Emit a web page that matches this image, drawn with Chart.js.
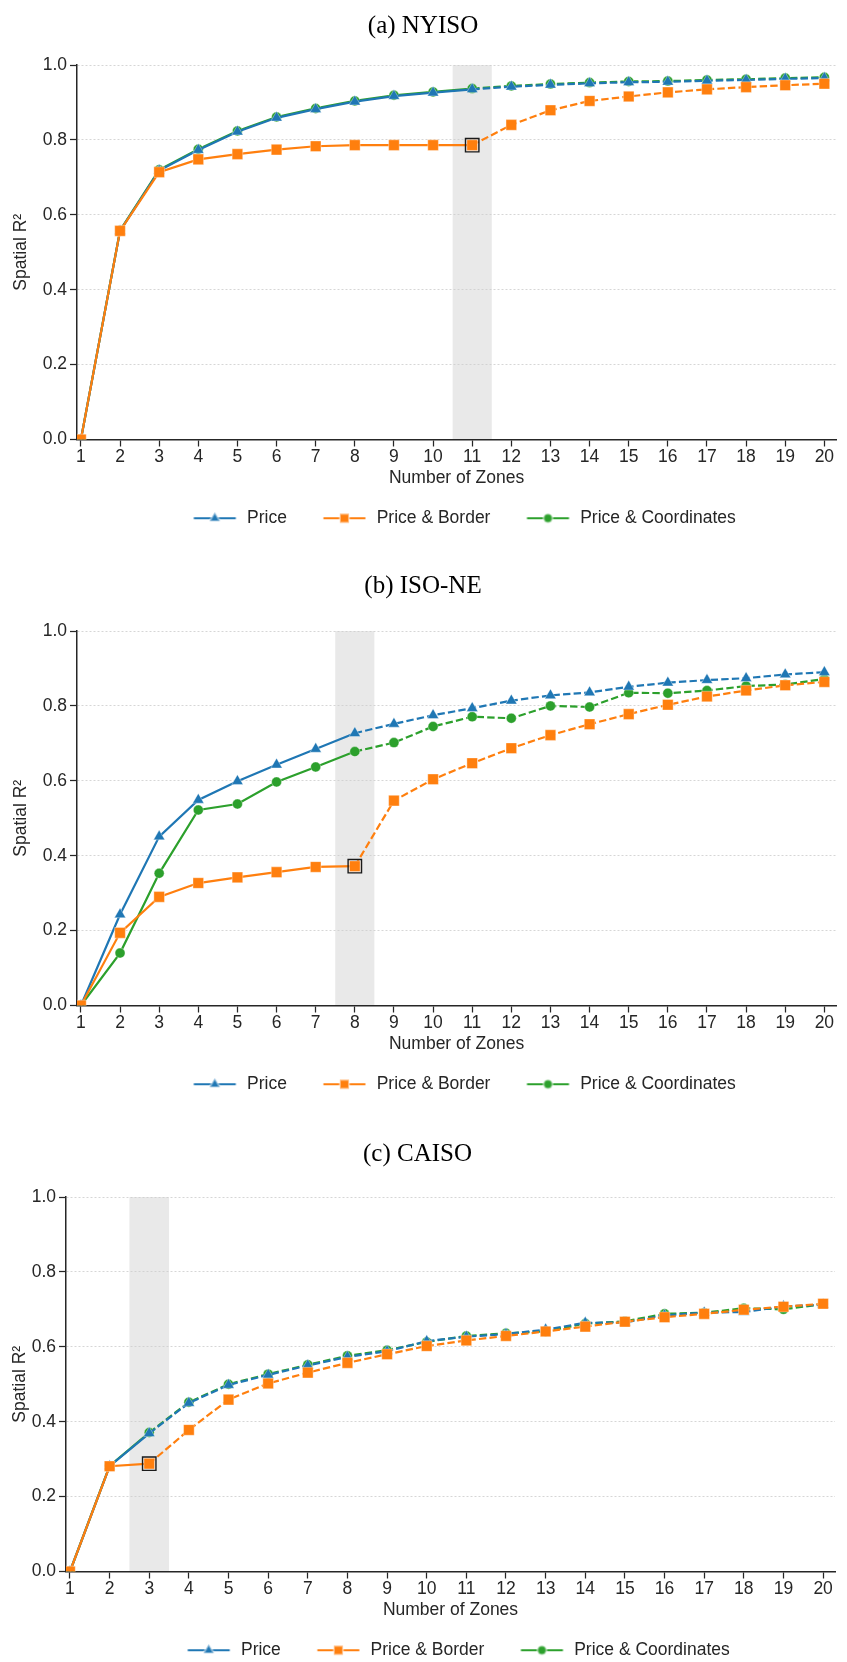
<!DOCTYPE html>
<html>
<head>
<meta charset="utf-8">
<script src="https://cdn.jsdelivr.net/npm/chart.js@4.4.0/dist/chart.umd.min.js"></script>
<style>
  html, body { margin: 0; padding: 0; background: #fff; }
  body { width: 847px; height: 1662px; overflow: hidden; position: relative; }
  canvas { position: absolute; left: 0; }
</style>
</head>
<body>
<canvas id="nyiso" width="847" height="537" style="top:0px"></canvas>
<canvas id="isone" width="847" height="539" style="top:564px"></canvas>
<canvas id="caiso" width="847" height="541" style="top:1128px"></canvas>
<script>
const zones = [1, 2, 3, 4, 5, 6, 7, 8, 9, 10, 11, 12, 13, 14, 15, 16, 17, 18, 19, 20];
const yTicks = [0, 0.2, 0.4, 0.6, 0.8, 1.0];
const seriesNames = ['Price', 'Price & Border', 'Price & Coordinates'];

// (a) NYISO
const nyisoPrice  = [0, 0.557, 0.718, 0.773, 0.822, 0.859, 0.882, 0.902, 0.917, 0.926, 0.935, 0.942, 0.947, 0.951, 0.954, 0.955, 0.958, 0.960, 0.963, 0.965];
const nyisoBorder = [0, 0.557, 0.714, 0.748, 0.762, 0.774, 0.783, 0.786, 0.786, 0.786, 0.786, 0.840, 0.879, 0.904, 0.916, 0.927, 0.935, 0.941, 0.946, 0.950];
const nyisoCoords = [0, 0.558, 0.720, 0.775, 0.824, 0.861, 0.884, 0.904, 0.919, 0.928, 0.937, 0.944, 0.949, 0.953, 0.956, 0.957, 0.960, 0.962, 0.965, 0.967];

// (b) ISO-NE
const isonePrice  = [0, 0.243, 0.451, 0.549, 0.599, 0.643, 0.685, 0.727, 0.752, 0.775, 0.794, 0.814, 0.828, 0.836, 0.851, 0.862, 0.869, 0.874, 0.884, 0.890];
const isoneBorder = [0, 0.194, 0.290, 0.327, 0.342, 0.356, 0.370, 0.372, 0.547, 0.604, 0.647, 0.687, 0.722, 0.751, 0.778, 0.803, 0.825, 0.841, 0.855, 0.864];
const isoneCoords = [0, 0.140, 0.353, 0.522, 0.538, 0.597, 0.637, 0.678, 0.702, 0.745, 0.771, 0.767, 0.800, 0.797, 0.835, 0.834, 0.841, 0.853, 0.857, 0.872];

// (c) CAISO
const caisoPrice  = [0, 0.281, 0.369, 0.450, 0.498, 0.525, 0.550, 0.573, 0.588, 0.615, 0.627, 0.634, 0.646, 0.664, 0.665, 0.684, 0.691, 0.693, 0.708, 0.712];
const caisoBorder = [0, 0.281, 0.288, 0.378, 0.459, 0.502, 0.531, 0.557, 0.580, 0.602, 0.617, 0.629, 0.641, 0.654, 0.667, 0.679, 0.688, 0.699, 0.707, 0.715];
const caisoCoords = [0, 0.282, 0.371, 0.452, 0.500, 0.527, 0.552, 0.576, 0.591, 0.613, 0.629, 0.636, 0.641, 0.662, 0.668, 0.688, 0.691, 0.703, 0.700, 0.714];

const colors = ['#1f77b4', '#ff7f0e', '#2ca02c'];
const markers = ['triangle', 'rect', 'circle'];
const radii = [6.5, 7.5, 5];
const legendRadii = [6, 6.5, 4.5];
const drawOrder = [1, 0, 2];   // orange on top, green at the back
const dash = [7.4, 3.2];
const textColor = '#262626';
const sans = 'Liberation Sans';

const panels = [
  {id: 'nyiso', title: '(a) NYISO', values: [nyisoPrice, nyisoBorder, nyisoCoords], optimal: 11,
   axisLeft: 77, padRight: 1, titleTop: 11.1, titleBottom: 23.9, ylabelPad: 10.6},
  {id: 'isone', title: '(b) ISO-NE', values: [isonePrice, isoneBorder, isoneCoords], optimal: 8,
   axisLeft: 77, padRight: 1, titleTop: 7.8, titleBottom: 29.2, ylabelPad: 10.6},
  {id: 'caiso', title: '(c) CAISO', values: [caisoPrice, caisoBorder, caisoCoords], optimal: 3,
   axisLeft: 66, padRight: 12, titleTop: 11.8, titleBottom: 27.2, ylabelPad: 10}
];

// legend handle: a short line with the marker in the middle
function makeHandle(i) {
  const c = document.createElement('canvas');
  c.width = 61;
  c.height = 16;
  const g = c.getContext('2d');
  g.strokeStyle = colors[i];
  g.lineWidth = 2.2;
  g.beginPath();
  g.moveTo(16.5, 8);
  g.lineTo(58.5, 8);
  g.stroke();
  g.fillStyle = colors[i];
  g.strokeStyle = 'rgba(255,255,255,0.45)';
  Chart.helpers.drawPoint(g, {pointStyle: markers[i], radius: legendRadii[i], rotation: 0, borderWidth: 0.8}, 37.5, 8);
  return c;
}
const handles = seriesNames.map((n, i) => makeHandle(i));

const bandPlugin = {
  id: 'optimalBand',
  beforeDraw(chart, args, opts) {
    const {ctx, chartArea, scales} = chart;
    const x0 = scales.x.getPixelForValue(opts.at - 0.5);
    const x1 = scales.x.getPixelForValue(opts.at + 0.5);
    ctx.save();
    ctx.fillStyle = '#e9e9e9';
    ctx.fillRect(x0, chartArea.top, x1 - x0, chartArea.bottom - chartArea.top);
    ctx.restore();
  }
};

function lineDataset(p, i) {
  const vals = p.values[i];
  return {
    label: seriesNames[i],
    data: zones.map((z, k) => ({x: z, y: vals[k]})),
    borderColor: colors[i],
    backgroundColor: colors[i],
    borderWidth: 2.2,
    pointStyle: markers[i],
    pointRadius: radii[i],
    pointBackgroundColor: colors[i],
    pointBorderColor: 'rgba(255,255,255,0.45)',
    pointBorderWidth: 0.8,
    order: drawOrder[i],
    tension: 0,
    segment: {
      borderDash: c => (zones[c.p0DataIndex] >= p.optimal ? dash : undefined)
    }
  };
}

panels.forEach(p => {
  const k = zones.indexOf(p.optimal);
  const datasets = seriesNames.map((n, i) => lineDataset(p, i));
  datasets.push({
    label: 'optimal',
    data: [{x: p.optimal, y: p.values[1][k]}],
    showLine: false,
    pointStyle: 'rect',
    pointRadius: 9.5,
    pointBackgroundColor: 'rgba(0,0,0,0)',
    pointBorderColor: '#1a1a1a',
    pointBorderWidth: 1.4,
    order: -1
  });

  new Chart(document.getElementById(p.id), {
    type: 'line',
    data: {datasets: datasets},
    plugins: [bandPlugin],
    options: {
      responsive: false,
      animation: false,
      devicePixelRatio: 1,
      events: [],
      layout: {padding: {left: 0, right: p.padRight, top: 0, bottom: 0}},
      plugins: {
        optimalBand: {at: p.optimal},
        tooltip: {enabled: false},
        title: {
          display: true,
          text: p.title,
          color: '#000',
          font: {family: 'Liberation Serif', size: 25, weight: 'normal'},
          padding: {top: p.titleTop, bottom: p.titleBottom}
        },
        legend: {
          position: 'bottom',
          fullSize: false,
          labels: {
            color: textColor,
            font: {family: sans, size: 17.5},
            usePointStyle: true,
            pointStyleWidth: 61,
            boxHeight: 14,
            padding: 20,
            generateLabels: () => seriesNames.map((name, i) => ({
              text: name,
              pointStyle: handles[i],
              fillStyle: colors[i],
              strokeStyle: colors[i],
              fontColor: textColor,
              lineWidth: 0,
              hidden: false,
              datasetIndex: i
            }))
          }
        }
      },
      scales: {
        x: {
          type: 'linear',
          min: 0.9,
          max: 20.3,
          afterFit: s => { s.height = 50; },
          afterBuildTicks: s => { s.ticks = zones.map(v => ({value: v})); },
          ticks: {
            color: textColor,
            font: {family: sans, size: 17.5},
            padding: 0.5,
            autoSkip: false,
            maxRotation: 0,
            includeBounds: false,
            callback: v => String(v)
          },
          grid: {drawOnChartArea: false, drawTicks: true, tickLength: 7, tickColor: textColor, tickWidth: 1.25},
          border: {display: true, color: textColor, width: 1.5},
          title: {display: true, text: 'Number of Zones', color: textColor,
                  font: {family: sans, size: 17.5}, padding: {top: 0, bottom: 0.75}}
        },
        y: {
          min: 0,
          max: 1,
          afterFit: s => { s.width = p.axisLeft; },
          afterBuildTicks: s => { s.ticks = yTicks.map(v => ({value: v})); },
          ticks: {
            color: textColor,
            font: {family: sans, size: 17.5},
            padding: 3,
            callback: v => v.toFixed(1)
          },
          grid: {color: '#cccccc', lineWidth: 0.8, tickLength: 7, tickColor: textColor, tickWidth: 1.25, tickBorderDash: []},
          border: {display: true, color: textColor, width: 1.5, dash: [2, 2]},
          title: {display: true, text: 'Spatial R²', color: textColor,
                  font: {family: sans, size: 17.5}, padding: {top: p.ylabelPad, bottom: 0}}
        }
      }
    }
  });
});
</script>
</body>
</html>
